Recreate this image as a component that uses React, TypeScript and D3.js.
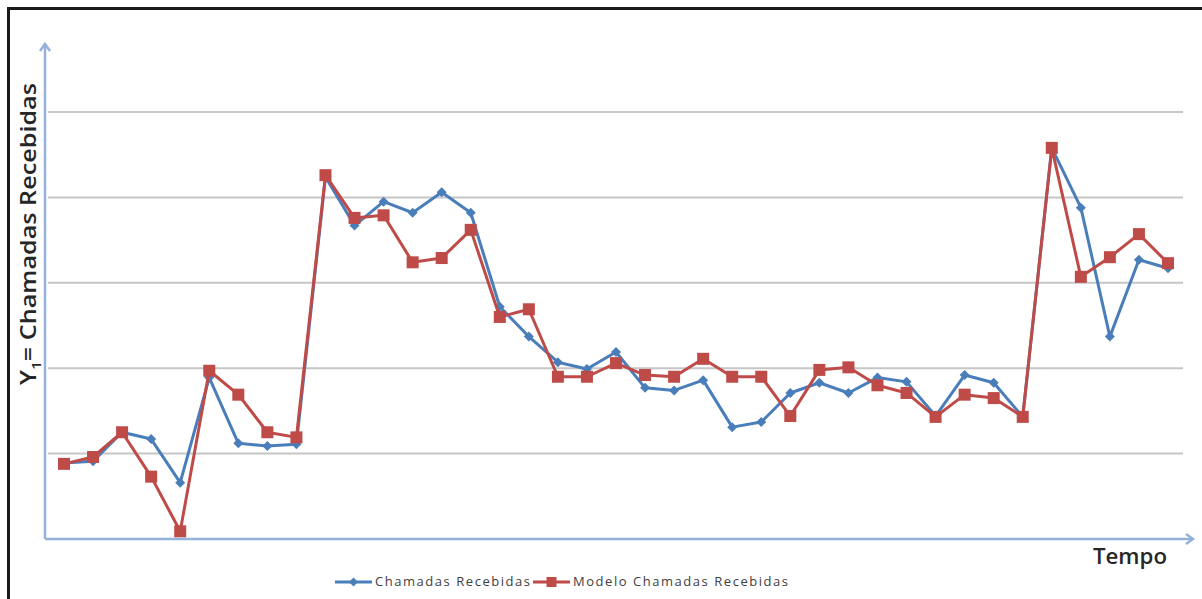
import React from "react";
import * as d3 from "d3";

// Time periods (unlabelled on the axis) and the two series
const periods: number[] = d3.range(1, 40);
const chamadas: number[] = [
  0.89, 0.91, 1.25, 1.17, 0.66, 1.89, 1.12, 1.09, 1.11, 4.24,
  3.67, 3.95, 3.82, 4.06, 3.82, 2.72, 2.37, 2.07, 1.99, 2.19,
  1.77, 1.74, 1.86, 1.31, 1.37, 1.71, 1.83, 1.71, 1.89, 1.84,
  1.44, 1.92, 1.83, 1.43, 4.58, 3.88, 2.37, 3.27, 3.17,
];
const modelo: number[] = [
  0.88, 0.96, 1.25, 0.73, 0.09, 1.97, 1.69, 1.25, 1.19, 4.26,
  3.76, 3.79, 3.24, 3.29, 3.62, 2.6, 2.69, 1.9, 1.9, 2.06,
  1.92, 1.9, 2.11, 1.9, 1.9, 1.44, 1.98, 2.01, 1.8, 1.71,
  1.43, 1.69, 1.65, 1.43, 4.58, 3.07, 3.3, 3.57, 3.23,
];
const gridValues: number[] = [1, 2, 3, 4, 5];
const seriesNames: string[] = ["Chamadas Recebidas", "Modelo Chamadas Recebidas"];

const W = 1202;
const H = 599;
const BLUE = "#4A7EBB";
const RED = "#BE4B48";
const AXIS = "#95B3DA";
const FONT = "'Open Sans', 'Liberation Sans', sans-serif";

export default function App() {
  const x = d3.scaleLinear().domain([1, 39]).range([64, 1168]);
  const y = d3.scaleLinear().domain([0, 5]).range([539, 112]);
  const axisX0 = 45;
  const axisY0 = 539;

  const line = d3
    .line<number>()
    .x((_, i) => x(periods[i]))
    .y((d) => y(d));

  const diamond = (cx: number, cy: number, r: number) =>
    `M${cx},${cy - r}L${cx + r},${cy}L${cx},${cy + r}L${cx - r},${cy}Z`;

  return (
    <svg
      width={W}
      height={H}
      style={{ position: "absolute", left: 0, top: 0, background: "#fff" }}
    >
      <rect x={0} y={0} width={W} height={H} fill="#fff" />
      {/* outer frame (left and top edges) */}
      <path d={`M8.5,${H}V8.5H${W}`} fill="none" stroke="#1a1a1a" strokeWidth={3} />

      {/* horizontal gridlines */}
      {gridValues.map((v) => (
        <line
          key={v}
          x1={48}
          x2={1183}
          y1={y(v)}
          y2={y(v)}
          stroke="#c6c6c6"
          strokeWidth={2}
        />
      ))}

      {/* axes with arrowheads */}
      <g stroke={AXIS} strokeWidth={2.5} fill="none">
        <line x1={axisX0} y1={axisY0} x2={axisX0} y2={45} />
        <path d={`M${axisX0 - 5},51L${axisX0},44L${axisX0 + 5},51`} />
        <line x1={axisX0} y1={axisY0} x2={1192} y2={axisY0} />
        <path d={`M1186,${axisY0 - 5}L1193,${axisY0}L1186,${axisY0 + 5}`} />
      </g>

      {/* Chamadas Recebidas */}
      <path d={line(chamadas) || ""} fill="none" stroke={BLUE} strokeWidth={3} strokeLinejoin="round" />
      {chamadas.map((v, i) => (
        <path key={`c${i}`} d={diamond(x(periods[i]), y(v), 5)} fill={BLUE} />
      ))}

      {/* Modelo Chamadas Recebidas */}
      <path d={line(modelo) || ""} fill="none" stroke={RED} strokeWidth={3} strokeLinejoin="round" />
      {modelo.map((v, i) => (
        <rect
          key={`m${i}`}
          x={x(periods[i]) - 6}
          y={y(v) - 6}
          width={12}
          height={12}
          fill={RED}
        />
      ))}

      {/* axis titles */}
      <text
        transform="translate(36,385) rotate(-90)"
        fontFamily={FONT}
        fontSize={21}
        fontWeight={600}
        fill="#262626"
        textLength={302}
        lengthAdjust="spacingAndGlyphs"
      >
        Y<tspan fontSize={13} dy={5}>1</tspan>
        <tspan dy={-5}>= Chamadas Recebidas</tspan>
      </text>
      <text
        x={1093}
        y={564}
        fontFamily={FONT}
        fontSize={21}
        fontWeight={600}
        fill="#262626"
        textLength={74}
        lengthAdjust="spacingAndGlyphs"
      >
        Tempo
      </text>

      {/* legend */}
      <g>
        <line x1={335} x2={372} y1={582} y2={582} stroke={BLUE} strokeWidth={3} />
        <path d={diamond(353.5, 582, 4.5)} fill={BLUE} />
        <text x={375} y={586} fontFamily={FONT} fontSize={13} fill="#404040" textLength={155} lengthAdjust="spacing">
          {seriesNames[0]}
        </text>
        <line x1={533} x2={570} y1={582} y2={582} stroke={RED} strokeWidth={3} />
        <rect x={546.5} y={577} width={10} height={10} fill={RED} />
        <text x={573} y={586} fontFamily={FONT} fontSize={13} fill="#404040" textLength={215} lengthAdjust="spacing">
          {seriesNames[1]}
        </text>
      </g>
    </svg>
  );
}
